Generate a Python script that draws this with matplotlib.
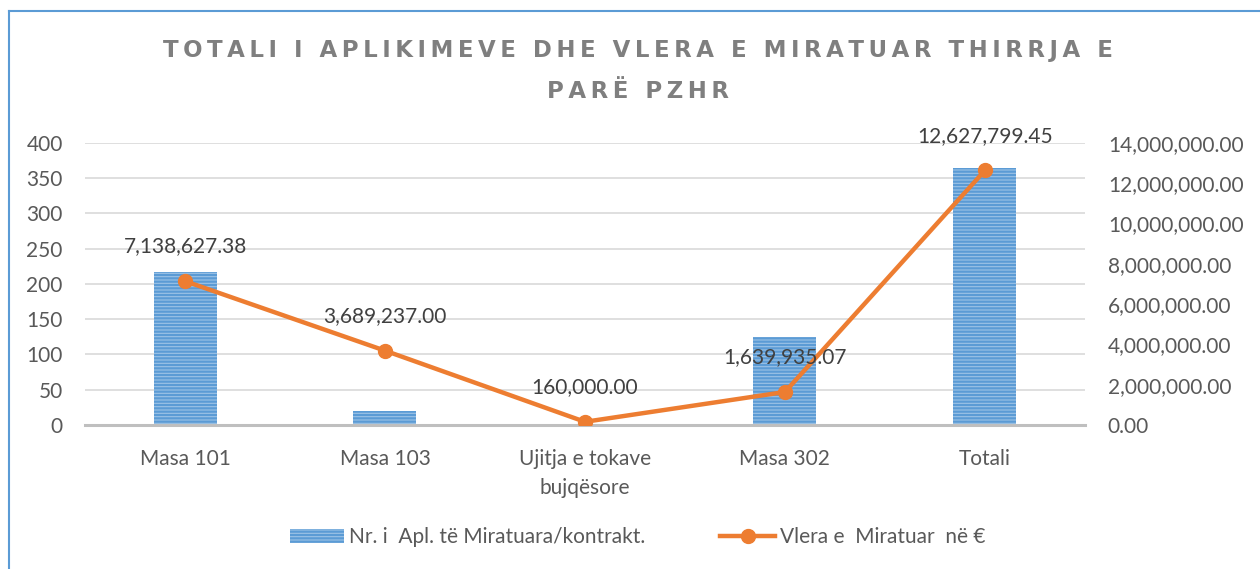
import matplotlib
matplotlib.use("Agg")
import matplotlib.pyplot as plt
from matplotlib.lines import Line2D
from matplotlib.patches import Patch
from matplotlib.ticker import FuncFormatter, MultipleLocator

categories = ["Masa 101", "Masa 103", "Ujitja e tokave\nbujqësore", "Masa 302", "Totali"]
aplikime = [217, 20, 1, 125, 365]
vlera = [7138627.38, 3689237.00, 160000.00, 1639935.07, 12627799.45]
bar_label = "Nr. i  Apl. të Miratuara/kontrakt."
line_label = "Vlera e  Miratuar  në €"
title_lines = ["TOTALI I APLIKIMEVE DHE VLERA E MIRATUAR THIRRJA E", "PARË PZHR"]

FONT = "Lato"
TXT = "#595959"
BLUE = "#5B9BD5"
ORANGE = "#ED7D31"
FS = 15

plt.rcParams["font.family"] = [FONT, "DejaVu Sans"]
plt.rcParams["hatch.linewidth"] = 1.6

fig = plt.figure(figsize=(12.6, 5.69), dpi=100)
ax = fig.add_axes([0.0675, 0.253, 0.7935, 0.496])
ax2 = ax.twinx()

x = list(range(len(categories)))
ax.bar(x, aplikime, width=0.315, color="#9DC3E6", edgecolor=BLUE, hatch="-----",
       linewidth=0.0, zorder=2)
ax.set_ylim(0, 400)
ax.set_xlim(-0.5, len(categories) - 0.5)
ax.yaxis.set_major_locator(MultipleLocator(50))
ax.grid(axis="y", color="#D9D9D9", linewidth=1.2, zorder=0)
ax.set_axisbelow(True)

ax2.plot(x, vlera, color=ORANGE, linewidth=3.2, marker="o", markersize=10, zorder=3,
         solid_capstyle="round")
ax2.set_ylim(0, 14000000)
ax2.yaxis.set_major_locator(MultipleLocator(2000000))
ax2.yaxis.set_major_formatter(FuncFormatter(lambda v, p: f"{v:,.2f}"))
for xi, v in zip(x, vlera):
    ax2.annotate(f"{v:,.2f}", (xi, v), xytext=(0, 25), textcoords="offset points",
                 ha="center", va="center", fontsize=FS, color="#404040")

for a in (ax, ax2):
    for s in a.spines.values():
        s.set_visible(False)
    a.tick_params(length=0, labelsize=FS, labelcolor=TXT)
ax.spines["bottom"].set_visible(True)
ax.spines["bottom"].set_color("#BFBFBF")
ax.spines["bottom"].set_linewidth(2.2)
ax.set_xticks(x)
ax.set_xticklabels(categories, fontsize=FS, color=TXT, linespacing=1.6)
ax.tick_params(axis="x", pad=17)
ax.tick_params(axis="y", pad=16)
ax2.tick_params(axis="y", pad=16.5)
ax2.set_zorder(ax.get_zorder() + 1)
ax2.patch.set_visible(False)

# letter-spaced title (tracking via hair spaces)
HS = "\u200a\u200a"
title = "\n".join(HS.join(line) for line in title_lines)
fig.text(0.506, 0.875, title, ha="center", va="center", fontsize=16.5,
         fontweight="bold", color="#7F7F7F", linespacing=2.0,
         family=["DejaVu Sans"])

handles = [Patch(facecolor="#9DC3E6", edgecolor=BLUE, hatch="-----", linewidth=0),
           Line2D([0], [0], color=ORANGE, linewidth=3.2, marker="o", markersize=10)]
leg = fig.legend(handles, [bar_label, line_label], loc="center", bbox_to_anchor=(0.506, 0.056),
                 ncol=2, frameon=False, fontsize=FS, handlelength=2.6, columnspacing=3.6,
                 handletextpad=0.25)
for t in leg.get_texts():
    t.set_color(TXT)

fig.add_artist(Line2D([0.0075, 0.0075], [0, 1 - 11/569], transform=fig.transFigure,
                      color=BLUE, linewidth=1.5))
fig.add_artist(Line2D([0.0075, 1], [1 - 11/569, 1 - 11/569], transform=fig.transFigure,
                      color=BLUE, linewidth=1.5))

fig.savefig("out.png", dpi=100)
